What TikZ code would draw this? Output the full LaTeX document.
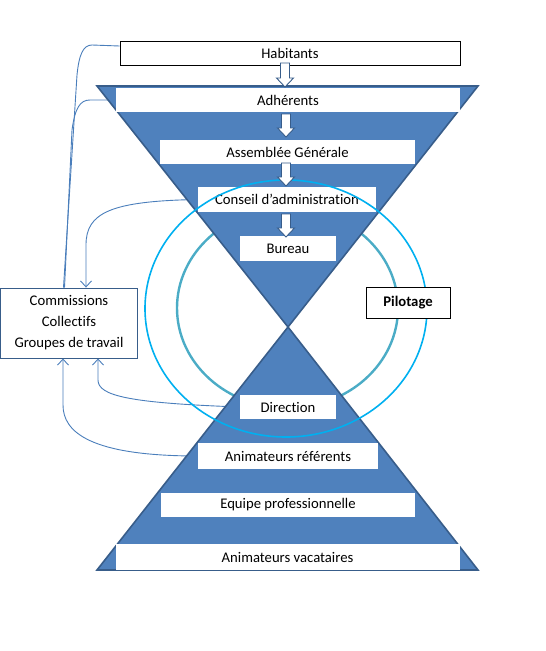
\documentclass[tikz,border=0pt]{standalone}
\usepackage{fontspec}
\setmainfont{Carlito}[Ligatures=NoCommon]
\usetikzlibrary{calc,arrows.meta}
\definecolor{triFill}{HTML}{4F81BD}
\definecolor{triLine}{HTML}{385D8A}
\definecolor{conn}{HTML}{4A7EBB}
\definecolor{outerC}{HTML}{00B0F0}
\definecolor{innerC}{HTML}{4BACC6}
\newcommand{\blkarrow}[3]{\draw[blockarr] (#1-4.5,#2) -- (#1-4.5,#3-9) -- (#1-8.5,#3-9) -- (#1,#3) -- (#1+8.5,#3-9) -- (#1+4.5,#3-9) -- (#1+4.5,#2) -- cycle;}
\begin{document}
\begin{tikzpicture}[x=1pt,y=-1pt,
  every node/.style={font=\fontsize{14.7}{21}\selectfont},
  wbox/.style={fill=white,inner sep=0pt,align=center},
  bbox/.style={wbox,draw=black,line width=0.9pt},
  tri/.style={fill=triFill,draw=triLine,line width=1.6pt,line join=miter},
  conline/.style={draw=conn,line width=0.9pt},
  conarrow/.style={conline,-{Straight Barb[length=6pt,width=11pt]}},
  blockarr/.style={fill=white,draw=triLine,line width=0.9pt,line join=miter}
]
\useasboundingbox (0,0) rectangle (546,651);

% inner circle
\draw[innerC,line width=2.4pt] (287.5,308) ellipse [x radius=110.5, y radius=100];

% nodes used by connectors
\node[bbox,minimum width=340,minimum height=24] (hab) at (290,53) {Habitants};
\node[wbox,minimum width=344,minimum height=24] (adh) at (288,100) {Adhérents};
\node[wbox,minimum width=178,minimum height=25] (ca) at (287,199.5) {Conseil d’administration};
\node[wbox,minimum width=96,minimum height=24] (dir) at (288,407) {Direction};
\node[wbox,minimum width=180,minimum height=26] (ar) at (288,456) {Animateurs référents};
\node[wbox,draw=triLine,line width=0.9pt,minimum width=137,minimum height=70] (com) at (69,323) {Commissions\\Collectifs\\Groupes de travail};

% connectors (behind triangles)
\draw[conline] (hab.west |- 0,46) -- (92,45) .. controls (83,45) and (79,55) .. (77,75) -- (com.north -| 63.5,0);
\draw[conline] (adh.west) -- (90,100) .. controls (80,100) and (75,108) .. (72,130) -- (com.north -| 64.5,0);
\draw[conarrow] (ca.west) .. controls (110,201) and (86,213) .. (86,245) -- (com.north -| 86,0);
\draw[conarrow] (dir.west) .. controls (130,403) and (98,396) .. (98,380) -- (com.south -| 98,0);
\draw[conarrow] (ar.west) .. controls (90,456) and (63,432) .. (63,405) -- (com.south -| 63,0);

% triangles
\draw[tri] (97,86) -- (478,86) -- (288,327) -- cycle;
\draw[tri] (288,327) -- (478,570) -- (97,570) -- cycle;

% boxes on top of triangles
\node[bbox,minimum width=340,minimum height=24] at (hab) {Habitants};
\node[wbox,minimum width=344,minimum height=24] at (adh) {Adhérents};
\node[wbox,minimum width=255,minimum height=24] (ag) at (287.5,152) {Assemblée Générale};
\node[wbox,minimum width=178,minimum height=25] at (ca) {Conseil d’administration};
\node[wbox,minimum width=96,minimum height=25] (bur) at (288,248.5) {Bureau};
\node[wbox,minimum width=96,minimum height=24] at (dir) {Direction};
\node[wbox,minimum width=180,minimum height=26] at (ar) {Animateurs référents};
\node[wbox,minimum width=254,minimum height=24] (ep) at (288,505) {Equipe professionnelle};
\node[wbox,minimum width=344,minimum height=26] (av) at (287.5,557) {Animateurs vacataires};
\node[wbox,draw=triLine,line width=0.9pt,minimum width=137,minimum height=70] at (com) {Commissions\\Collectifs\\Groupes de travail};

% outer circle
\draw[outerC,line width=1.6pt] (286,308.5) ellipse [x radius=141, y radius=128.5];

% pilotage
\node[bbox,minimum width=84,minimum height=31,font=\fontsize{14.7}{21}\selectfont\bfseries] (pil) at (408,302.5) {Pilotage};

% block arrows between boxes
\blkarrow{285}{63}{87}
\blkarrow{286}{114}{137}
\blkarrow{286}{163}{186}
\blkarrow{286}{214}{237}
\end{tikzpicture}
\end{document}
